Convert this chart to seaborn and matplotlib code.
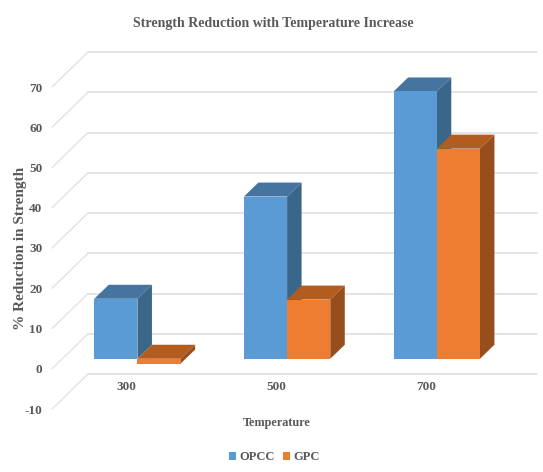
import matplotlib
matplotlib.use("Agg")
import matplotlib.pyplot as plt
import pandas as pd
import seaborn as sns
from matplotlib.patches import Polygon
from matplotlib.transforms import Affine2D

temperatures = ["300", "500", "700"]
opcc = [14.9, 40.3, 66.4]
gpc = [-1.2, 14.7, 52.2]
y_ticks = [-10, 0, 10, 20, 30, 40, 50, 60, 70]

df = pd.DataFrame({
    "Temperature": temperatures * 2,
    "Reduction": opcc + gpc,
    "Series": ["OPCC"] * 3 + ["GPC"] * 3,
})

sns.set_theme(style="white")
plt.rcParams["font.family"] = ["Liberation Serif", "DejaVu Serif"]
plt.rcParams["font.weight"] = "bold"
plt.rcParams["axes.unicode_minus"] = False
text_color = "#595959"
grid_color = "#E2E2E2"

W, H = 543, 472
fig = plt.figure(figsize=(W / 100, H / 100), dpi=100)
# axes box = front edge of the fake 3D floor
ax = fig.add_axes([52 / W, (H - 409) / H, 449 / W, 322 / H])

colors = {"OPCC": "#5B9BD5", "GPC": "#ED7D31"}
top_colors = {"OPCC": "#44749F", "GPC": "#B25C1F"}
side_colors = {"OPCC": "#3A6689", "GPC": "#964F1C"}

sns.barplot(data=df, x="Temperature", y="Reduction", hue="Series",
            hue_order=["OPCC", "GPC"], palette=colors, width=0.577, gap=0,
            saturation=1, legend=True, ax=ax, zorder=3, linewidth=0, edgecolor="none")

ax.set_xlim(-0.5, 2.5)
ax.set_ylim(-10, 70)
ax.set_yticks(y_ticks)

# pixel -> data sizes
px_x = 449 / 3
px_y = 322 / 80

# walls: diagonal on the left, then the back wall
back = Affine2D().translate(36, 35)
for v in y_ticks:
    ax.plot([-0.5, 2.5], [v, v], color=grid_color, lw=1.3, clip_on=False,
            transform=ax.transData + back, zorder=1)
    ax.plot([-0.5, -0.5 + 36 / px_x], [v, v + 35 / px_y], color=grid_color,
            lw=1.0, clip_on=False, zorder=1)

# move the bars into the middle of the floor and give them depth
shift_x = 10.6 / px_x
shift_y = 10 / px_y
depth_x = 14.5 / px_x
depth_y = 14 / px_y

for name, container in zip(["OPCC", "GPC"], ax.containers):
    z = 3 if name == "OPCC" else 4
    for bar in container:
        x0 = bar.get_x() + shift_x
        w = bar.get_width()
        h = bar.get_height()
        low = min(0, h) + shift_y
        high = max(0, h) + shift_y
        bar.set_x(x0)
        bar.set_y(low)
        bar.set_height(high - low)
        bar.set_zorder(z + 0.2)
        bar.set_clip_on(False)
        x1 = x0 + w
        top = [(x0, high), (x1, high), (x1 + depth_x, high + depth_y), (x0 + depth_x, high + depth_y)]
        side = [(x1, low), (x1 + depth_x, low + depth_y), (x1 + depth_x, high + depth_y), (x1, high)]
        ax.add_patch(Polygon(top, closed=True, fc=top_colors[name], ec="none", zorder=z, clip_on=False))
        ax.add_patch(Polygon(side, closed=True, fc=side_colors[name], ec="none", zorder=z, clip_on=False))

sns.despine(ax=ax, left=True, bottom=True)
ax.spines["bottom"].set_position(("data", 0))
ax.tick_params(axis="both", length=0, labelsize=9.5, labelcolor=text_color)
ax.tick_params(axis="y", pad=7)
ax.tick_params(axis="x", pad=9)

ax.set_xlabel("Temperature", fontsize=8.8, fontweight="bold", color=text_color)
ax.xaxis.set_label_coords(0.5, -8 / 322)
ax.set_ylabel("% Reduction in Strength", fontsize=11, fontweight="bold", color=text_color)
ax.yaxis.set_label_coords((27 - 52) / 449, 0.5)

fig.text(273 / W, 1 - 23 / H, "Strength Reduction with Temperature Increase",
         ha="center", va="center", fontsize=10, fontweight="bold", color=text_color)

leg = ax.legend(loc="center", bbox_to_anchor=(274.5 / W, 1 - 457 / H),
                bbox_transform=fig.transFigure, ncol=2, frameon=False,
                fontsize=9, handlelength=0.56, handleheight=0.6,
                handletextpad=0.25, columnspacing=0.7, borderpad=0)
for t in leg.get_texts():
    t.set_color(text_color)

fig.savefig("out.png", dpi=100)
